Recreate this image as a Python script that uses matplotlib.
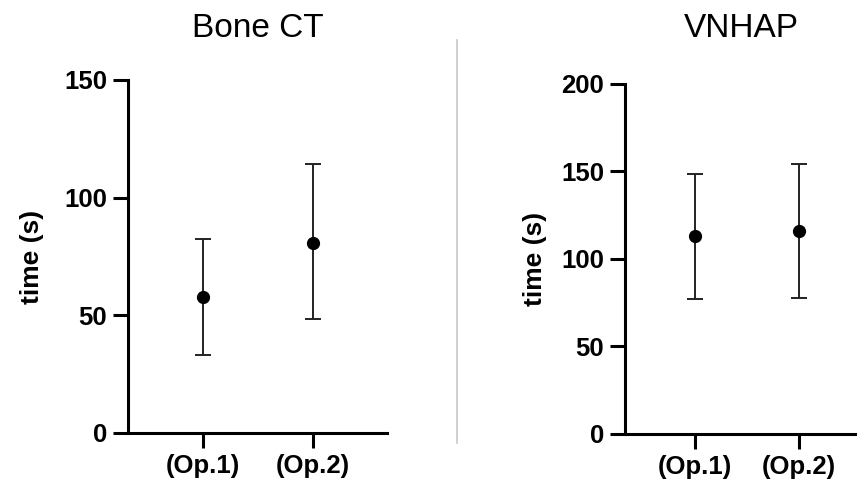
import matplotlib.pyplot as plt
from matplotlib.lines import Line2D

plt.rcParams['font.family'] = ['Liberation Sans', 'DejaVu Sans']

groups = ["(Op.1)", "(Op.2)"]

# Bone CT panel
bone_mean = [57.9, 80.9]
bone_upper = [82.4, 114.2]
bone_lower = [33.1, 48.3]

# VNHAP panel
vnhap_mean = [113.1, 116.0]
vnhap_upper = [148.7, 154.1]
vnhap_lower = [77.1, 77.7]

fig = plt.figure(figsize=(8.57, 4.86), dpi=100)

ax1 = fig.add_axes([0.1494, 0.1091, 0.3022, 0.7263])
ax2 = fig.add_axes([0.7293, 0.107, 0.2707, 0.7202])


def draw(ax, mean, upper, lower, ymax, xlim, title, label_x, title_pad):
    x = list(range(len(groups)))
    err = [[m - lo for m, lo in zip(mean, lower)], [u - m for m, u in zip(mean, upper)]]
    ax.errorbar(x, mean, yerr=err, fmt='o', color='black', ms=8.5,
                elinewidth=1.4, capsize=5.5, capthick=1.4, ecolor='#222222')
    ax.set_ylim(0, ymax)
    ax.set_xlim(*xlim)
    ax.set_yticks(range(0, ymax + 1, 50))
    ax.set_xticks(x)
    ax.set_xticklabels(groups)
    for s in ['top', 'right']:
        ax.spines[s].set_visible(False)
    for s in ['left', 'bottom']:
        ax.spines[s].set_linewidth(2.2)
    ax.tick_params(axis='y', length=11, width=2.2, labelsize=18.5, pad=4)
    ax.tick_params(axis='x', length=11, width=2.2, labelsize=18.5, pad=4)
    for lab in ax.get_yticklabels() + ax.get_xticklabels():
        lab.set_fontweight('bold')
    ax.set_ylabel("time (s)", fontsize=19, fontweight='bold')
    ax.yaxis.set_label_coords(label_x, 0.5)
    ax.set_title(title, fontsize=24, pad=title_pad)
    for s in ax.spines.values():
        s.set_clip_on(False)


draw(ax1, bone_mean, bone_upper, bone_lower, 150, (-0.68, 1.67), "Bone CT", -0.325, 31)
draw(ax2, vnhap_mean, vnhap_upper, vnhap_lower, 200, (-0.67, 1.56), "VNHAP", -0.336, 34)

# divider between panels
fig.add_artist(Line2D([457 / 857, 457 / 857], [1 - 40 / 486, 1 - 443 / 486],
                      color='#c8c8c8', lw=1.2))

fig.savefig("out.png", dpi=100)
